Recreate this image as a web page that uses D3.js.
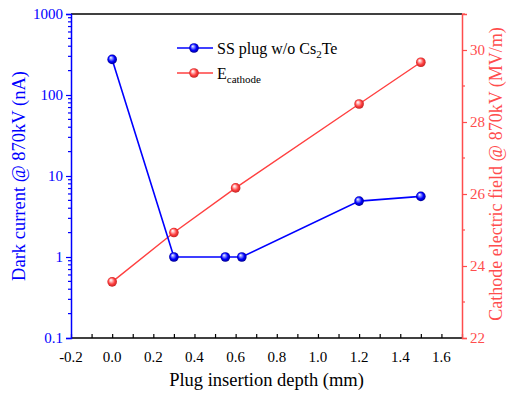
<!DOCTYPE html>
<html>
<head>
<meta charset="utf-8">
<script src="https://d3js.org/d3.v7.min.js"></script>
<style>
  body { margin: 0; background: #fff; }
</style>
</head>
<body>
<div id="cont"></div>
<script>
// depth (mm) and dark current (nA) for SS plug w/o Cs2Te
var depthDark = [0.0, 0.3, 0.55, 0.63, 1.2, 1.5];
var darkCurrent = [275, 1.0, 1.0, 1.0, 4.9, 5.6];
// depth (mm) and cathode field (MV/m)
var depthField = [0.0, 0.3, 0.6, 1.2, 1.5];
var fieldValues = [23.56, 24.93, 26.17, 28.5, 29.66];
var xTicks = [-0.2, 0.0, 0.2, 0.4, 0.6, 0.8, 1.0, 1.2, 1.4, 1.6];
var leftTicks = [0.1, 1, 10, 100, 1000];
var rightTicks = [22, 24, 26, 28, 30];

(function() {
    var W = 507, H = 397,
        margin = {top: 14, right: 45, bottom: 59, left: 71},
        width = W - margin.left - margin.right,
        height = H - margin.top - margin.bottom,
        serif = '"Liberation Serif", "Times New Roman", serif',
        blue = '#0000ff', red = '#ff4040', redAxis = '#ff4d4d';

    var svg = d3.select('#cont').append('svg')
        .attr('width', W).attr('height', H)
        .style('font-family', serif);

    var defs = svg.append('defs');
    [['gBlue', '#9fa8ff', '#0000ff', '#00007a'], ['gRed', '#ffd0d0', '#ff4040', '#b81c1c']].forEach(function(g) {
        var rg = defs.append('radialGradient').attr('id', g[0])
            .attr('cx', '50%').attr('cy', '50%').attr('r', '55%')
            .attr('fx', '35%').attr('fy', '30%');
        rg.append('stop').attr('offset', '0%').attr('stop-color', '#ffffff');
        rg.append('stop').attr('offset', '20%').attr('stop-color', g[1]);
        rg.append('stop').attr('offset', '60%').attr('stop-color', g[2]);
        rg.append('stop').attr('offset', '100%').attr('stop-color', g[3]);
    });

    var g = svg.append('g')
        .attr('transform', 'translate(' + margin.left + ',' + margin.top + ')');

    var x = d3.scaleLinear().domain([-0.2, 1.7]).range([0, width]);
    var yL = d3.scaleLog().domain([0.1, 1000]).range([height, 0]);
    var yR = d3.scaleLinear().domain([22, 31]).range([height, 0]);

    // top frame line
    g.append('line').attr('x1', 0).attr('x2', width).attr('y1', 0).attr('y2', 0)
        .attr('stroke', '#000').attr('stroke-width', 1.5);

    // bottom axis: ticks every 0.1, inward
    var xMinor = d3.range(-2, 18).map(function(i) { return i / 10; });
    var xAxis = g.append('g').attr('transform', 'translate(0,' + height + ')');
    xAxis.call(d3.axisTop(x).tickValues(xMinor).tickSize(4).tickFormat(''));
    xAxis.attr('font-family', null);
    xAxis.select('.domain').remove();
    xAxis.selectAll('line').attr('stroke', '#000').attr('stroke-width', 1.2);
    xAxis.append('line').attr('x1', 0).attr('x2', width).attr('stroke', '#000').attr('stroke-width', 1.5);
    xAxis.selectAll('.lbl').data(xTicks).enter().append('text')
        .attr('x', function(d) { return x(d); })
        .attr('y', 24)
        .attr('text-anchor', 'middle')
        .style('font-family', serif)
        .style('font-size', '15px')
        .attr('fill', '#000')
        .text(function(d) { return d3.format('.1f')(d).replace('\u2212', '-'); });

    // left log axis, outward ticks
    var leftMinor = [];
    [0.1, 1, 10, 100].forEach(function(dec) {
        for (var k = 2; k <= 9; k++) leftMinor.push(dec * k);
    });
    var lAx = g.append('g');
    lAx.selectAll('.mn').data(leftMinor).enter().append('line')
        .attr('x1', -3).attr('x2', 0)
        .attr('y1', function(d) { return yL(d); }).attr('y2', function(d) { return yL(d); })
        .attr('stroke', blue).attr('stroke-width', 1.2);
    lAx.call(d3.axisLeft(yL).tickValues(leftTicks).tickSize(5).tickPadding(3)
        .tickFormat(function(d) { return d < 1 ? '0.1' : d3.format('d')(d); }));
    lAx.attr('font-family', null).attr('font-size', null);
    lAx.select('.domain').attr('stroke', blue).attr('stroke-width', 1.5);
    lAx.selectAll('.tick line').attr('stroke', blue).attr('stroke-width', 1.2);
    lAx.selectAll('.tick text').attr('fill', blue)
        .style('font-family', serif).style('font-size', '15px');

    // right axis, outward ticks
    var rAx = g.append('g').attr('transform', 'translate(' + width + ',0)');
    rAx.selectAll('.mn').data([23, 25, 27, 29, 31]).enter().append('line')
        .attr('x1', 0).attr('x2', 3)
        .attr('y1', function(d) { return yR(d); }).attr('y2', function(d) { return yR(d); })
        .attr('stroke', redAxis).attr('stroke-width', 1.2);
    rAx.call(d3.axisRight(yR).tickValues(rightTicks).tickSize(5).tickPadding(3));
    rAx.attr('font-family', null).attr('font-size', null);
    rAx.select('.domain').attr('stroke', redAxis).attr('stroke-width', 1.5);
    rAx.selectAll('.tick line').attr('stroke', redAxis).attr('stroke-width', 1.2);
    rAx.selectAll('.tick text').attr('fill', redAxis)
        .style('font-family', serif).style('font-size', '15px');

    // red series
    var fieldData = depthField.map(function(d, i) { return [d, fieldValues[i]]; });
    g.append('path').datum(fieldData)
        .attr('fill', 'none').attr('stroke', red).attr('stroke-width', 1.4)
        .attr('d', d3.line().x(function(d) { return x(d[0]); }).y(function(d) { return yR(d[1]); }));

    // blue series
    var darkData = depthDark.map(function(d, i) { return [d, darkCurrent[i]]; });
    g.append('path').datum(darkData)
        .attr('fill', 'none').attr('stroke', blue).attr('stroke-width', 1.6)
        .attr('d', d3.line().x(function(d) { return x(d[0]); }).y(function(d) { return yL(d[1]); }));

    g.selectAll('.rdot').data(fieldData).enter().append('circle')
        .attr('cx', function(d) { return x(d[0]); })
        .attr('cy', function(d) { return yR(d[1]); })
        .attr('r', 4.8).attr('fill', 'url(#gRed)');
    g.selectAll('.bdot').data(darkData).enter().append('circle')
        .attr('cx', function(d) { return x(d[0]); })
        .attr('cy', function(d) { return yL(d[1]); })
        .attr('r', 4.8).attr('fill', 'url(#gBlue)');

    // legend
    var leg = svg.append('g');
    [[48, blue, 'url(#gBlue)'], [73, red, 'url(#gRed)']].forEach(function(l) {
        leg.append('line').attr('x1', 177).attr('x2', 213).attr('y1', l[0]).attr('y2', l[0])
            .attr('stroke', l[1]).attr('stroke-width', 1.5);
        leg.append('circle').attr('cx', 194).attr('cy', l[0]).attr('r', 4.8).attr('fill', l[2]);
    });
    var t1 = leg.append('text').attr('x', 217).attr('y', 54).style('font-size', '16px').attr('fill', '#000');
    t1.append('tspan').text('SS plug w/o Cs');
    t1.append('tspan').style('font-size', '11px').attr('dy', 4).text('2');
    t1.append('tspan').attr('dy', -4).text('Te');
    var t2 = leg.append('text').attr('x', 217).attr('y', 79).style('font-size', '16px').attr('fill', '#000');
    t2.append('tspan').text('E');
    t2.append('tspan').style('font-size', '11px').attr('dy', 4).text('cathode');

    // axis titles
    svg.append('text')
        .attr('transform', 'translate(' + (margin.left + width / 2) + ',386)')
        .attr('text-anchor', 'middle').style('font-size', '18.5px').attr('fill', '#000')
        .text('Plug insertion depth (mm)');
    svg.append('text')
        .attr('transform', 'translate(25,' + (margin.top + height / 2) + ') rotate(-90)')
        .attr('text-anchor', 'middle').style('font-size', '18.5px').attr('fill', blue)
        .text('Dark current @ 870kV (nA)');
    svg.append('text')
        .attr('transform', 'translate(502,' + (margin.top + height / 2 - 2) + ') rotate(-90)')
        .attr('text-anchor', 'middle').style('font-size', '18px').attr('fill', redAxis)
        .text('Cathode electric field @ 870kV (MV/m)');
})();
</script>
</body>
</html>
